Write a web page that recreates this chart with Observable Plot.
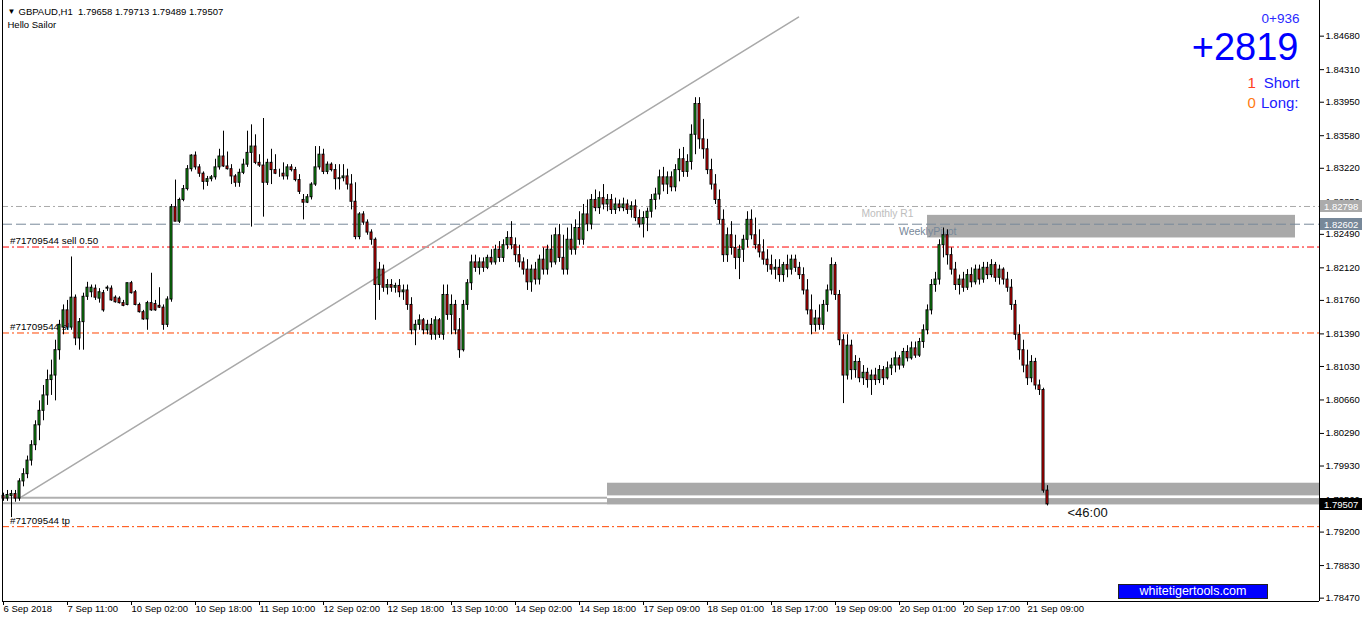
<!DOCTYPE html>
<html>
<head>
<meta charset="utf-8">
<script src="https://cdn.jsdelivr.net/npm/d3@7"></script>
<script src="https://cdn.jsdelivr.net/npm/@observablehq/plot@0.6"></script>
<style>
  html, body { margin: 0; padding: 0; background: #fff; }
  #wrap { position: relative; width: 1362px; height: 621px; overflow: hidden; font-family: "Liberation Sans", Arial, sans-serif; }
  #wrap svg { display: block; }
  .btn { position: absolute; left: 1118px; top: 584px; width: 148px; height: 13px; background: #0000ff; border: 1px solid #222; color: #fff; font-size: 12.5px; line-height: 13px; text-align: center; }
</style>
</head>
<body>
<div id="wrap"></div>
<script>
// ---------------- data ----------------
const symbol = "GBPAUD", period = "H1";
const opens = [
1.7960,1.7957,1.7960,1.7962,1.7957,1.7976,1.7984,1.7999,1.8016,1.8038,
1.8054,1.8071,1.8088,1.8093,1.8121,1.8146,1.8165,1.8146,1.8179,1.8134,
1.8152,1.8180,1.8185,1.8189,1.8178,1.8184,1.8189,1.8189,1.8179,1.8178,
1.8173,1.8171,1.8195,1.8185,1.8171,1.8163,1.8155,1.8173,1.8172,1.8170,
1.8168,1.8149,1.8177,1.8279,1.8263,1.8287,1.8299,1.8321,1.8336,1.8323,
1.8316,1.8307,1.8310,1.8312,1.8323,1.8335,1.8324,1.8321,1.8313,1.8306,
1.8317,1.8326,1.8339,1.8346,1.8328,1.8325,1.8306,1.8328,1.8320,1.8316,
1.8316,1.8313,1.8323,1.8320,1.8309,1.8287,1.8284,1.8290,1.8304,1.8323,
1.8337,1.8318,1.8326,1.8320,1.8310,1.8311,1.8313,1.8304,1.8285,1.8246,
1.8271,1.8262,1.8251,1.8243,1.8193,1.8210,1.8190,1.8193,1.8190,1.8192,
1.8185,1.8187,1.8171,1.8143,1.8149,1.8154,1.8143,1.8149,1.8138,1.8154,
1.8138,1.8182,1.8160,1.8171,1.8143,1.8121,1.8171,1.8195,1.8218,1.8212,
1.8218,1.8212,1.8223,1.8218,1.8232,1.8223,1.8237,1.8245,1.8237,1.8226,
1.8218,1.8210,1.8196,1.8210,1.8199,1.8221,1.8210,1.8232,1.8218,1.8248,
1.8223,1.8210,1.8243,1.8232,1.8256,1.8243,1.8271,1.8260,1.8287,1.8278,
1.8289,1.8282,1.8287,1.8276,1.8282,1.8278,1.8282,1.8276,1.8280,1.8267,
1.8260,1.8267,1.8274,1.8287,1.8293,1.8312,1.8304,1.8312,1.8301,1.8320,
1.8332,1.8318,1.8329,1.8359,1.8393,1.8354,1.8343,1.8320,1.8304,1.8287,
1.8265,1.8226,1.8248,1.8234,1.8223,1.8232,1.8243,1.8265,1.8248,1.8237,
1.8229,1.8221,1.8215,1.8210,1.8212,1.8204,1.8215,1.8210,1.8221,1.8212,
1.8204,1.8187,1.8165,1.8149,1.8156,1.8149,1.8171,1.8187,1.8215,1.8182,
1.8132,1.8093,1.8126,1.8099,1.8108,1.8090,1.8096,1.8088,1.8093,1.8088,
1.8099,1.8090,1.8101,1.8104,1.8112,1.8104,1.8119,1.8112,1.8123,1.8115,
1.8130,1.8143,1.8165,1.8193,1.8199,1.8237,1.8248,1.8226,1.8210,1.8193,
1.8199,1.8190,1.8204,1.8196,1.8210,1.8199,1.8212,1.8204,1.8215,1.8201,
1.8210,1.8199,1.8190,1.8171,1.8138,1.8121,1.8104,1.8090,1.8108,1.8082,
1.8077,1.79658];
const highs = [
1.7963,1.7966,1.7966,1.7966,1.7979,1.7990,1.8004,1.8021,1.8043,1.8065,
1.8082,1.8099,1.8110,1.8132,1.8154,1.8171,1.8176,1.8224,1.8182,1.8156,
1.8184,1.8196,1.8193,1.8193,1.8189,1.8187,1.8192,1.8192,1.8181,1.8180,
1.8176,1.8195,1.8197,1.8187,1.8173,1.8165,1.8175,1.8206,1.8176,1.8190,
1.8171,1.8180,1.8282,1.8309,1.8289,1.8303,1.8325,1.8337,1.8340,1.8326,
1.8318,1.8313,1.8314,1.8332,1.8343,1.8363,1.8340,1.8326,1.8315,1.8321,
1.8332,1.8363,1.8370,1.8359,1.8337,1.8377,1.8332,1.8343,1.8337,1.8321,
1.8328,1.8326,1.8326,1.8323,1.8315,1.8293,1.8293,1.8306,1.8346,1.8346,
1.8343,1.8329,1.8328,1.8326,1.8326,1.8326,1.8321,1.8315,1.8306,1.8273,
1.8274,1.8265,1.8254,1.8245,1.8218,1.8215,1.8199,1.8199,1.8195,1.8199,
1.8193,1.8193,1.8179,1.8154,1.8160,1.8156,1.8154,1.8156,1.8158,1.8156,
1.8193,1.8193,1.8182,1.8176,1.8156,1.8176,1.8199,1.8226,1.8226,1.8223,
1.8223,1.8226,1.8232,1.8237,1.8241,1.8243,1.8252,1.8263,1.8245,1.8237,
1.8223,1.8221,1.8215,1.8218,1.8226,1.8234,1.8237,1.8248,1.8256,1.8260,
1.8248,1.8256,1.8260,1.8265,1.8274,1.8282,1.8287,1.8293,1.8298,1.8296,
1.8304,1.8293,1.8293,1.8289,1.8287,1.8289,1.8287,1.8285,1.8287,1.8276,
1.8274,1.8278,1.8293,1.8300,1.8320,1.8323,1.8318,1.8318,1.8326,1.8343,
1.8345,1.8337,1.8370,1.8400,1.8400,1.8376,1.8354,1.8332,1.8315,1.8298,
1.8276,1.8256,1.8263,1.8248,1.8237,1.8248,1.8274,1.8276,1.8267,1.8254,
1.8243,1.8232,1.8226,1.8221,1.8221,1.8218,1.8226,1.8226,1.8226,1.8218,
1.8212,1.8199,1.8182,1.8165,1.8171,1.8176,1.8193,1.8223,1.8218,1.8187,
1.8138,1.8138,1.8132,1.8115,1.8112,1.8104,1.8101,1.8099,1.8101,1.8104,
1.8103,1.8108,1.8112,1.8119,1.8115,1.8123,1.8126,1.8130,1.8130,1.8134,
1.8149,1.8171,1.8199,1.8207,1.8243,1.8256,1.8254,1.8234,1.8218,1.8204,
1.8207,1.8210,1.8212,1.8215,1.8215,1.8218,1.8218,1.8221,1.8218,1.8215,
1.8212,1.8207,1.8199,1.8176,1.8149,1.8132,1.8121,1.8115,1.8112,1.8088,
1.8079,1.79713];
const lows = [
1.7954,1.7954,1.7936,1.7953,1.7954,1.7970,1.7979,1.7993,1.8010,1.8021,
1.8043,1.8060,1.8071,1.8065,1.8110,1.8138,1.8143,1.8143,1.8126,1.8121,
1.8121,1.8176,1.8179,1.8176,1.8173,1.8163,1.8186,1.8175,1.8173,1.8172,
1.8169,1.8170,1.8183,1.8170,1.8162,1.8154,1.8143,1.8164,1.8164,1.8167,
1.8143,1.8146,1.8174,1.8263,1.8261,1.8285,1.8297,1.8318,1.8320,1.8312,
1.8298,1.8302,1.8307,1.8309,1.8320,1.8323,1.8320,1.8304,1.8301,1.8301,
1.8315,1.8323,1.8257,1.8326,1.8323,1.8268,1.8303,1.8304,1.8315,1.8312,
1.8309,1.8309,1.8318,1.8307,1.8293,1.8265,1.8283,1.8287,1.8302,1.8320,
1.8315,1.8315,1.8318,1.8298,1.8298,1.8307,1.8298,1.8276,1.8243,1.8243,
1.8259,1.8248,1.8237,1.8154,1.8176,1.8185,1.8182,1.8185,1.8184,1.8179,
1.8176,1.8165,1.8138,1.8126,1.8143,1.8138,1.8138,1.8132,1.8132,1.8134,
1.8132,1.8154,1.8138,1.8138,1.8112,1.8119,1.8165,1.8187,1.8207,1.8204,
1.8207,1.8210,1.8215,1.8215,1.8218,1.8218,1.8232,1.8232,1.8218,1.8212,
1.8204,1.8187,1.8185,1.8193,1.8193,1.8204,1.8204,1.8212,1.8215,1.8218,
1.8204,1.8204,1.8226,1.8226,1.8237,1.8237,1.8252,1.8254,1.8274,1.8271,
1.8276,1.8274,1.8271,1.8271,1.8274,1.8274,1.8271,1.8267,1.8263,1.8256,
1.8245,1.8252,1.8267,1.8276,1.8287,1.8296,1.8293,1.8296,1.8296,1.8307,
1.8312,1.8312,1.8320,1.8337,1.8343,1.8332,1.8315,1.8298,1.8282,1.8260,
1.8218,1.8218,1.8226,1.8210,1.8199,1.8218,1.8234,1.8243,1.8232,1.8223,
1.8215,1.8207,1.8204,1.8199,1.8196,1.8196,1.8201,1.8204,1.8207,1.8199,
1.8182,1.8160,1.8138,1.8141,1.8143,1.8143,1.8163,1.8182,1.8176,1.8126,
1.8062,1.8088,1.8088,1.8090,1.8085,1.8082,1.8079,1.8071,1.8082,1.8084,
1.8082,1.8088,1.8093,1.8096,1.8099,1.8101,1.8108,1.8110,1.8112,1.8113,
1.8123,1.8138,1.8160,1.8185,1.8193,1.8223,1.8215,1.8204,1.8187,1.8182,
1.8185,1.8187,1.8190,1.8193,1.8193,1.8195,1.8199,1.8201,1.8196,1.8193,
1.8193,1.8185,1.8165,1.8132,1.8110,1.8096,1.8082,1.8085,1.8077,1.8071,
1.7963,1.79489];
const closes = [
1.7957,1.7961,1.7962,1.7957,1.7976,1.7984,1.7999,1.8016,1.8038,1.8054,
1.8071,1.8088,1.8093,1.8121,1.8149,1.8165,1.8146,1.8179,1.8134,1.8152,
1.8180,1.8190,1.8190,1.8179,1.8185,1.8165,1.8190,1.8176,1.8174,1.8173,
1.8170,1.8195,1.8184,1.8171,1.8163,1.8155,1.8173,1.8165,1.8165,1.8168,
1.8149,1.8177,1.8279,1.8263,1.8287,1.8299,1.8321,1.8336,1.8323,1.8316,
1.8307,1.8310,1.8312,1.8323,1.8335,1.8324,1.8321,1.8313,1.8306,1.8317,
1.8326,1.8339,1.8346,1.8328,1.8325,1.8306,1.8328,1.8320,1.8316,1.8316,
1.8313,1.8323,1.8320,1.8309,1.8296,1.8284,1.8290,1.8304,1.8323,1.8337,
1.8318,1.8326,1.8320,1.8310,1.8311,1.8313,1.8304,1.8285,1.8246,1.8271,
1.8262,1.8251,1.8243,1.8193,1.8210,1.8190,1.8193,1.8190,1.8192,1.8185,
1.8187,1.8171,1.8143,1.8149,1.8154,1.8143,1.8149,1.8138,1.8154,1.8138,
1.8182,1.8160,1.8171,1.8143,1.8121,1.8171,1.8195,1.8218,1.8212,1.8218,
1.8212,1.8223,1.8218,1.8232,1.8223,1.8237,1.8245,1.8237,1.8226,1.8218,
1.8210,1.8196,1.8210,1.8199,1.8221,1.8210,1.8232,1.8218,1.8248,1.8223,
1.8210,1.8243,1.8232,1.8256,1.8243,1.8271,1.8260,1.8287,1.8278,1.8289,
1.8282,1.8287,1.8276,1.8282,1.8278,1.8282,1.8276,1.8280,1.8267,1.8260,
1.8267,1.8274,1.8287,1.8293,1.8312,1.8304,1.8312,1.8301,1.8320,1.8332,
1.8318,1.8329,1.8359,1.8393,1.8354,1.8343,1.8320,1.8304,1.8287,1.8265,
1.8226,1.8248,1.8234,1.8223,1.8232,1.8243,1.8265,1.8248,1.8237,1.8229,
1.8221,1.8215,1.8210,1.8212,1.8204,1.8215,1.8210,1.8221,1.8212,1.8204,
1.8187,1.8165,1.8149,1.8156,1.8149,1.8171,1.8187,1.8215,1.8182,1.8132,
1.8093,1.8126,1.8099,1.8108,1.8090,1.8096,1.8088,1.8093,1.8088,1.8099,
1.8090,1.8101,1.8104,1.8112,1.8104,1.8119,1.8112,1.8123,1.8115,1.8130,
1.8143,1.8165,1.8193,1.8199,1.8237,1.8248,1.8226,1.8210,1.8193,1.8199,
1.8190,1.8204,1.8196,1.8210,1.8199,1.8212,1.8204,1.8215,1.8201,1.8210,
1.8199,1.8190,1.8171,1.8138,1.8121,1.8104,1.8090,1.8108,1.8082,1.8077,
1.79658,1.79507];

const timeTickBars = [0,16,32,48,64,80,96,112,128,144,160,176,192,208,224,240,256];
const timeLabels = ["6 Sep 2018","7 Sep 11:00","10 Sep 02:00","10 Sep 18:00","11 Sep 10:00","12 Sep 02:00",
  "12 Sep 18:00","13 Sep 10:00","14 Sep 02:00","14 Sep 18:00","17 Sep 09:00","18 Sep 01:00",
  "18 Sep 17:00","19 Sep 09:00","20 Sep 01:00","20 Sep 17:00","21 Sep 09:00"];
const priceTicks = [1.84680,1.84310,1.83950,1.83580,1.83220,1.82850,1.82490,1.82120,1.81760,
  1.81390,1.81030,1.80660,1.80290,1.79930,1.79560,1.79200,1.78830,1.78470];

const pivots = [{name: "Monthly R1", price: 1.82798}, {name: "WeeklyPivot", price: 1.82602}];
const orders = [{name: "#71709544 sell 0.50", price: 1.8235}, {name: "#71709544 sl", price: 1.8140}, {name: "#71709544 tp", price: 1.7926}];
const zones = [{from: 231, to: 323, low: 1.8245, high: 1.8270}, {from: 151, to: 329, low: 1.7960, high: 1.7974}, {from: 151, to: 329, low: 1.7950, high: 1.7957}];
const zoneEdges = [{price: 1.7958}, {price: 1.7952}];
const trend = [{bar: 4.5, price: 1.7959}, {bar: 198.75, price: 1.8489}];
const panel = {sub: "0+936", total: "+2819", shortCount: 1, longCount: 0};
const countdown = "<46:00";
const site = "whitetigertools.com";

// ---------------- chart ----------------
const bars = opens.map((open, i) => ({i, open, high: highs[i], low: lows[i], close: closes[i]}));
const last = bars[bars.length - 1];
const fmt = d3.format(".5f");
const xDomain = [-0.25, 329];
const yDomain = [1.78433, 1.85074];
const bull = "#12B012", bear = "#FF0000";
const orderColor = {"#71709544 sell 0.50": "#FF0000", "#71709544 sl": "#FF4500", "#71709544 tp": "#FF4500"};

const chart = Plot.plot({
  width: 1362, height: 621,
  marginLeft: 2, marginRight: 43, marginTop: 0, marginBottom: 20,
  x: {type: "linear", domain: xDomain, axis: null},
  y: {type: "linear", domain: yDomain, axis: null},
  style: {fontFamily: '"Liberation Sans", Arial, sans-serif', fontSize: "9.5px", color: "#000", background: "#fff", overflow: "visible"},
  marks: [
    Plot.rect(zones, {x1: "from", x2: "to", y1: "low", y2: "high", fill: "#A9A9A9"}),
    Plot.ruleY(zoneEdges, {y: "price", x1: xDomain[0], x2: 151, stroke: "#B0B0B0", strokeWidth: 2}),
    Plot.ruleY(pivots.slice(0, 1), {y: "price", stroke: "#A9A9A9", strokeDasharray: "6,3,2,3"}),
    Plot.ruleY(pivots.slice(1, 2), {y: "price", stroke: "#778899", strokeDasharray: "10,4"}),
    Plot.ruleY(orders, {y: "price", stroke: d => orderColor[d.name], strokeDasharray: "7,3,2,3"}),
    Plot.line(trend, {x: "bar", y: "price", stroke: "#A9A9A9", strokeWidth: 1.5}),
    Plot.text(orders, {x: xDomain[0], y: "price", text: "name", textAnchor: "start", lineAnchor: "bottom", dx: 7.5, dy: -3, fill: "#000", fontSize: 9.8}),
    Plot.text(pivots.slice(0, 1), {x: 228, y: "price", text: "name", textAnchor: "end", lineAnchor: "bottom", dx: -2, dy: 11, fill: "#BDBDBD", fontSize: 10.3}),
    Plot.text(pivots.slice(1, 2), {x: 238, y: "price", text: "name", textAnchor: "end", lineAnchor: "bottom", dx: 1, dy: 11, fill: "#778899", fontSize: 10.5}),
    // candles: wick then body (black outline, coloured fill)
    Plot.ruleX(bars, {x: "i", y1: "low", y2: "high", stroke: "#000", strokeWidth: 1}),
    Plot.rect(bars, {x1: d => d.i - 0.25, x2: d => d.i + 0.25, y1: "open", y2: "close",
      fill: d => d.close >= d.open ? bull : bear, stroke: "#000", strokeWidth: 1}),
    Plot.text([last], {x: "i", y: "close", text: () => countdown, textAnchor: "start", lineAnchor: "bottom", dx: 20, dy: 12.6, fontSize: 13, fill: "#111"}),
    // frame
    Plot.ruleX([xDomain[0], xDomain[1]], {stroke: "#000"}),
    Plot.ruleY([yDomain[0]], {stroke: "#000"}),
    Plot.axisY(priceTicks, {anchor: "right", tickSize: 4, tickPadding: 2, tickFormat: d => d.toFixed(5), fontSize: 9.5}),
    Plot.axisX(timeTickBars, {anchor: "bottom", tickSize: 4, tickPadding: 0, textAnchor: "start", tickFormat: d => timeLabels[timeTickBars.indexOf(d)], fontSize: 9.5}),
    // header
    Plot.text(["\u25BC"], {frameAnchor: "top-left", dx: 5, dy: 13, textAnchor: "start", lineAnchor: "bottom", fontSize: 8}),
    Plot.text([`${symbol},${period}  ${fmt(last.open)} ${fmt(last.high)} ${fmt(last.low)} ${fmt(last.close)}`],
      {frameAnchor: "top-left", dx: 16, dy: 14, textAnchor: "start", lineAnchor: "bottom", fontSize: 9.5}),
    Plot.text(["Hello Sailor"], {frameAnchor: "top-left", dx: 5, dy: 27, textAnchor: "start", lineAnchor: "bottom", fontSize: 9.5}),
    // panel top-right
    Plot.text([panel.sub], {frameAnchor: "top-right", dx: -20, dy: 22, textAnchor: "end", lineAnchor: "bottom", fontSize: 13.5, fill: "#2A2AFF"}),
    Plot.text([panel.total], {frameAnchor: "top-right", dx: -21, dy: 59, textAnchor: "end", lineAnchor: "bottom", fontSize: 38, fill: "#0000FF"}),
    Plot.text(["Short"], {frameAnchor: "top-right", dx: -20, dy: 87, textAnchor: "end", lineAnchor: "bottom", fontSize: 15, fill: "#2020FF"}),
    Plot.text([String(panel.shortCount)], {frameAnchor: "top-right", dx: -72, dy: 87, textAnchor: "start", lineAnchor: "bottom", fontSize: 15, fill: "#FF4020"}),
    Plot.text(["Long:"], {frameAnchor: "top-right", dx: -21, dy: 107, textAnchor: "end", lineAnchor: "bottom", fontSize: 15, fill: "#2020FF"}),
    Plot.text([String(panel.longCount)], {frameAnchor: "top-right", dx: -72, dy: 107, textAnchor: "start", lineAnchor: "bottom", fontSize: 15, fill: "#FF7A10"})
  ]
});

document.getElementById("wrap").appendChild(chart);

// price label boxes on the right axis, placed with the chart's own y scale
const yS = chart.scale("y");
const svg = d3.select(chart);
const boxes = [
  {price: pivots[0].price, fill: "#ABABAB"},
  {price: pivots[1].price, fill: "#778899"},
  {price: last.close, fill: "#000000"}
];
for (const b of boxes) {
  const cy = Math.round(yS.apply(b.price));
  svg.append("rect").attr("x", 1320).attr("y", cy - 6).attr("width", 42).attr("height", 12).attr("fill", b.fill);
  svg.append("text").attr("x", 1324).attr("y", cy + 3.5).attr("text-anchor", "start")
    .attr("fill", "#fff").attr("font-size", 9.5).text(fmt(b.price));
}

const btn = document.createElement("div");
btn.className = "btn";
btn.textContent = site;
document.getElementById("wrap").appendChild(btn);
</script>
</body>
</html>
